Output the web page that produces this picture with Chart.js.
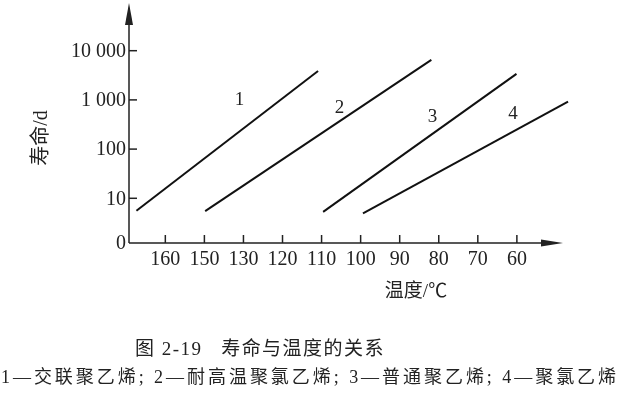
<!DOCTYPE html>
<html>
<head>
<meta charset="utf-8">
<script src="https://cdn.jsdelivr.net/npm/chart.js@4.4.1/dist/chart.umd.min.js"></script>
<style>
    html, body { margin: 0; padding: 0; background: #fff; }
    #wrap { position: relative; width: 620px; height: 399px; }
</style>
</head>
<body>
<div id="wrap"><canvas id="lifeChart" width="620" height="399"></canvas></div>
<script>
// x axis is positional: tick i (1..10) carries the temperature label
const xTickLabels = ['160', '150', '130', '120', '110', '100', '90', '80', '70', '60'];
const yTickValues = [1.234, 10, 100, 1000, 10000];
const yTickLabels = ['0', '10', '100', '1 000', '10 000'];

// life (d) vs temperature position
const line1X = [0.26, 4.91];
const line1Y = [5.6, 3880];
const line2X = [2.02, 7.81];
const line2Y = [5.5, 6500];
const line3X = [5.04, 9.99];
const line3Y = [5.3, 3375];
const line4X = [6.06, 11.31];
const line4Y = [4.95, 922];

const curveNames = ['1', '2', '3', '4'];
const nameX = [2.90, 5.46, 7.84, 9.90];
const nameY = [1000, 687, 457, 519];

const ink = '#222';
const serif = '"Liberation Serif", "Noto Sans CJK SC", serif';

function pts(xs, ys) {
    return xs.map((x, i) => ({ x: x, y: ys[i] }));
}

// draw text stretched to a given width with letter spacing
function spreadText(ctx, text, x, y, width) {
    ctx.letterSpacing = '0px';
    const w = ctx.measureText(text).width;
    const n = Array.from(text).length;
    const gap = Math.max(0, (width - w) / n);
    ctx.letterSpacing = gap + 'px';
    ctx.fillText(text, x, y);
    ctx.letterSpacing = '0px';
}

const axesPlugin = {
    id: 'axesPlugin',
    afterDraw(chart) {
        const ctx = chart.ctx;
        const xs = chart.scales.x;
        const ys = chart.scales.y;
        const x0 = xs.getPixelForValue(xs.min);
        const y0 = ys.getPixelForValue(ys.min);
        const yTop = ys.getPixelForValue(ys.max) - 2;
        const xEnd = xs.getPixelForValue(11.18);

        ctx.save();
        ctx.strokeStyle = ink;
        ctx.fillStyle = ink;
        ctx.lineWidth = 1.5;

        // axis lines
        ctx.beginPath();
        ctx.moveTo(x0, y0);
        ctx.lineTo(x0, yTop + 18);
        ctx.moveTo(x0, y0);
        ctx.lineTo(xEnd - 18, y0);
        ctx.stroke();

        // arrow heads
        ctx.beginPath();
        ctx.moveTo(x0, yTop);
        ctx.lineTo(x0 - 4, yTop + 22);
        ctx.lineTo(x0 + 4, yTop + 22);
        ctx.closePath();
        ctx.fill();
        ctx.beginPath();
        ctx.moveTo(xEnd, y0);
        ctx.lineTo(xEnd - 22, y0 - 3.5);
        ctx.lineTo(xEnd - 22, y0 + 3.5);
        ctx.closePath();
        ctx.fill();

        // y ticks + labels
        ctx.font = '20px ' + serif;
        ctx.textAlign = 'right';
        ctx.textBaseline = 'middle';
        yTickValues.forEach((v, i) => {
            const py = ys.getPixelForValue(v);
            if (i > 0) {
                ctx.beginPath();
                ctx.moveTo(x0, py);
                ctx.lineTo(x0 + 8, py);
                ctx.stroke();
            }
            ctx.fillText(yTickLabels[i], x0 - 3, py + 1);
        });

        // x ticks + labels
        ctx.textAlign = 'center';
        ctx.textBaseline = 'top';
        xTickLabels.forEach((lab, i) => {
            const px = xs.getPixelForValue(i + 1);
            ctx.beginPath();
            ctx.moveTo(px, y0);
            ctx.lineTo(px, y0 - 8);
            ctx.stroke();
            ctx.fillText(lab, px, y0 + 7);
        });

        // curve numbers
        ctx.font = '19px ' + serif;
        ctx.textBaseline = 'middle';
        curveNames.forEach((n, i) => {
            ctx.fillText(n, xs.getPixelForValue(nameX[i]), ys.getPixelForValue(nameY[i]));
        });

        // axis titles
        ctx.font = '19px ' + serif;
        ctx.fillText('温度/℃', 416, 292);
        ctx.save();
        ctx.translate(42, 138);
        ctx.rotate(-Math.PI / 2);
        ctx.font = '20px ' + serif;
        ctx.fillText('寿命/d', 0, 0);
        ctx.restore();

        // caption
        ctx.textAlign = 'left';
        ctx.font = '19px ' + serif;
        spreadText(ctx, '图 2-19   寿命与温度的关系', 135, 350, 250);
        ctx.font = '18px ' + serif;
        spreadText(ctx, '1—交联聚乙烯; 2—耐高温聚氯乙烯; 3—普通聚乙烯; 4—聚氯乙烯', 1, 378, 618);
        ctx.restore();
    }
};

function lineSet(xs, ys) {
    return {
        data: pts(xs, ys),
        showLine: true,
        borderColor: '#111',
        borderWidth: 2,
        pointRadius: 0,
        fill: false
    };
}

new Chart(document.getElementById('lifeChart'), {
    type: 'scatter',
    data: {
        datasets: [
            lineSet(line1X, line1Y),
            lineSet(line2X, line2Y),
            lineSet(line3X, line3Y),
            lineSet(line4X, line4Y)
        ]
    },
    options: {
        responsive: false,
        animation: false,
        layout: { padding: { left: 129, right: 50, top: 5, bottom: 156 } },
        plugins: { legend: { display: false }, tooltip: { enabled: false } },
        scales: {
            x: { type: 'linear', min: 0.07, max: 11.36, display: false },
            y: { type: 'logarithmic', min: 1.234, max: 84900, display: false }
        }
    },
    plugins: [axesPlugin]
});
</script>
</body>
</html>
